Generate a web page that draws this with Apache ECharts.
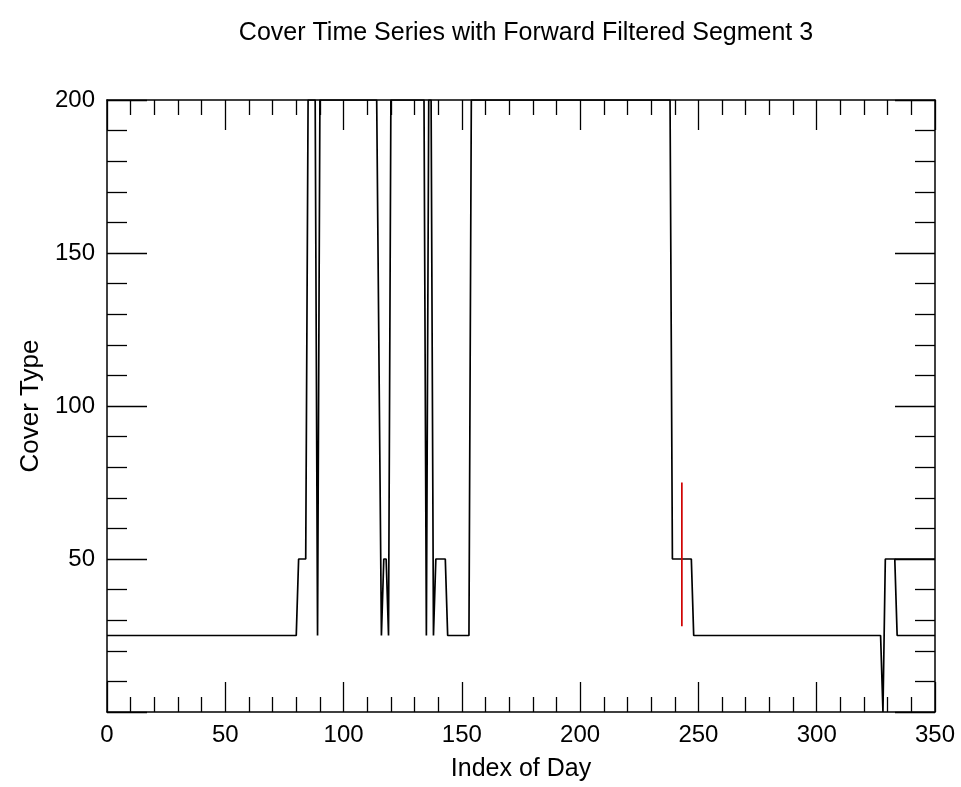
<!DOCTYPE html>
<html>
<head>
<meta charset="utf-8">
<script src="https://cdn.jsdelivr.net/npm/echarts@6/dist/echarts.min.js"></script>
<style>
  html, body { margin: 0; padding: 0; background: #fff; }
  #main { width: 961px; height: 787px; }
</style>
</head>
<body>
<div id="main"></div>
<script>
// breakpoints of the cover series (day index, cover type)
var coverDays = [0, 80, 81, 84, 85, 88, 89, 90, 114, 116, 117, 118, 119, 120,
  134, 135, 136, 137, 138, 139, 143, 144, 153, 154, 238, 239, 247, 248,
  327, 328, 329, 333, 334, 350];
var coverVals = [25, 25, 50, 50, 200, 200, 25, 200, 200, 25, 50, 50, 25, 200,
  200, 25, 200, 200, 25, 50, 50, 25, 25, 200, 200, 50, 50, 25,
  25, 0, 50, 50, 25, 25];
// tail of the unfiltered series past day 333
var tailDays = [333, 350];
var tailVals = [50, 50];
// forward filtered segment 3
var segDays = [243, 243];
var segVals = [28, 75];

var xTicks = [0, 50, 100, 150, 200, 250, 300, 350];
var yTicks = [0, 50, 100, 150, 200];

function pairs(xs, ys) {
  return xs.map(function (x, i) { return [x, ys[i]]; });
}

var chart = echarts.init(document.getElementById('main'), null, { renderer: 'canvas' });

var font = 'Liberation Sans, Arial, Helvetica, sans-serif';
var axisLine = { show: true, onZero: false, lineStyle: { color: '#000', width: 1.5 } };

function xAxis(pos, showLabel) {
  return {
    type: 'value', position: pos,
    min: xTicks[0], max: xTicks[xTicks.length - 1], interval: 50,
    name: showLabel ? 'Index of Day' : '',
    nameLocation: 'middle', nameGap: 45,
    nameTextStyle: { fontSize: 25, fontFamily: font, color: '#000' },
    axisLine: axisLine,
    axisTick: { show: true, inside: true, length: 30, lineStyle: { color: '#000', width: 1.3 } },
    minorTick: { show: true, splitNumber: 5, length: 15, lineStyle: { color: '#000', width: 1.3 } },
    axisLabel: { show: showLabel, fontSize: 24, fontFamily: font, color: '#000', margin: 11 },
    splitLine: { show: false }
  };
}

function yAxis(pos, showLabel) {
  return {
    type: 'value', position: pos,
    min: yTicks[0], max: yTicks[yTicks.length - 1], interval: 50,
    name: showLabel ? 'Cover Type' : '',
    nameLocation: 'middle', nameGap: 63, nameRotate: 90,
    nameTextStyle: { fontSize: 26, fontFamily: font, color: '#000' },
    axisLine: axisLine,
    axisTick: { show: true, inside: true, length: 40, lineStyle: { color: '#000', width: 1.3 } },
    minorTick: { show: true, splitNumber: 5, length: 20, lineStyle: { color: '#000', width: 1.3 } },
    axisLabel: {
      show: showLabel, fontSize: 24, fontFamily: font, color: '#000', margin: 12,
      formatter: function (v) { return v === 0 ? '' : v; }
    },
    splitLine: { show: false }
  };
}

var option = {
  backgroundColor: '#fff',
  animation: false,
  title: {
    text: 'Cover Time Series with Forward Filtered Segment 3',
    left: 521, top: 16, textAlign: 'center',
    textStyle: { fontSize: 25, fontWeight: 'normal', fontFamily: font, color: '#000' }
  },
  grid: { left: 107, right: 26, top: 100, bottom: 75 },
  xAxis: [xAxis('bottom', true), xAxis('top', false)],
  yAxis: [yAxis('left', true), yAxis('right', false)],
  series: [
    {
      name: 'cover', type: 'line', data: pairs(coverDays, coverVals),
      showSymbol: false, lineStyle: { color: '#000', width: 1.7 }, z: 2
    },
    {
      name: 'tail', type: 'line', data: pairs(tailDays, tailVals),
      showSymbol: false, lineStyle: { color: '#000', width: 1.7 }, z: 2
    },
    {
      name: 'segment 3', type: 'line', data: pairs(segDays, segVals),
      showSymbol: false, lineStyle: { color: '#d00000', width: 1.7 }, z: 3
    }
  ]
};

chart.setOption(option);
</script>
</body>
</html>
